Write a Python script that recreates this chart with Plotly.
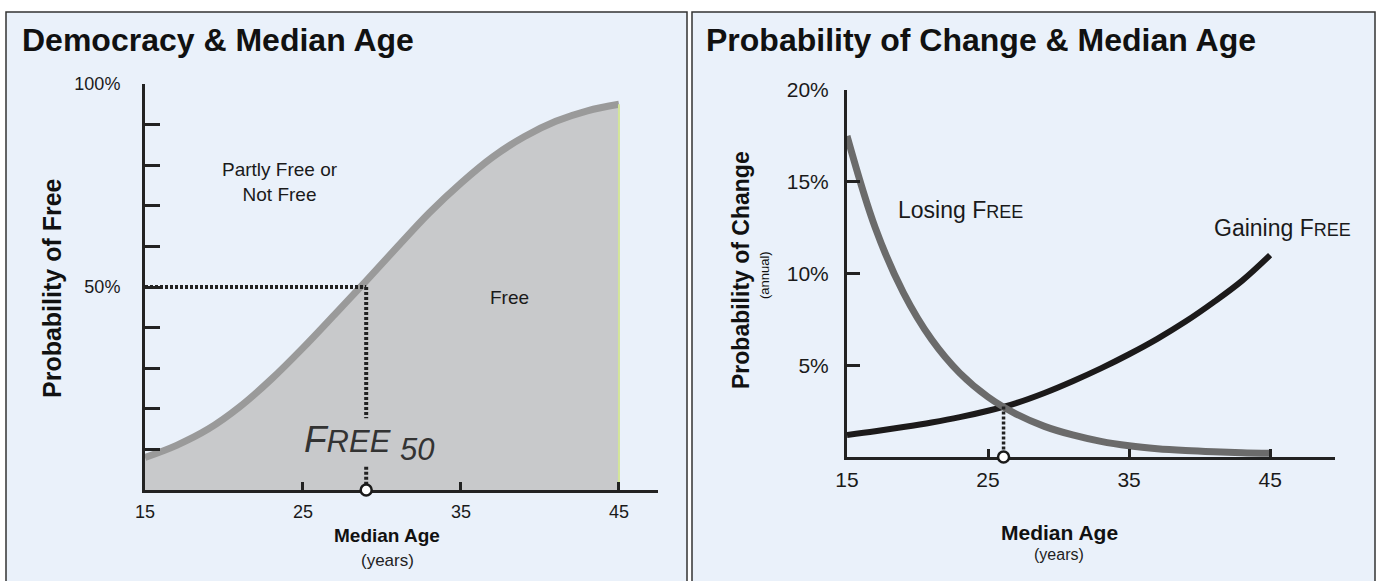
import plotly.graph_objects as go

W, H = 1378, 581
FONT = "Arial, 'Liberation Sans', sans-serif"

# ---------------- data ----------------
# Left panel: probability of Free vs median age
age_free = [15, 17, 19, 21, 23, 25, 27, 29, 31, 33, 35, 37, 39, 41, 43, 45]
p_free = [8, 11, 15, 20.5, 27.3, 35, 43.2, 51.5, 60, 68.3, 75.6, 82, 87, 90.8, 93.4, 95]
free50_age = 29
free50_p = 50
left_xticks = [15, 25, 35, 45]
left_yticks = [0, 10, 20, 30, 40, 50, 60, 70, 80, 90, 100]
left_ytext = ["", "", "", "", "", "50%", "", "", "", "", "100%"]

# Right panel: annual probability of change vs median age
age_change = [15, 17, 19, 21, 23, 25, 27, 29, 31, 33, 35, 37, 39, 41, 43, 45]
losing_free = [17.5, 12.5, 8.95, 6.4, 4.57, 3.27, 2.34, 1.67, 1.2, 0.85, 0.61, 0.45, 0.35, 0.28, 0.23, 0.2]
gaining_free = [1.2, 1.4, 1.63, 1.88, 2.17, 2.52, 2.94, 3.49, 4.13, 4.83, 5.6, 6.44, 7.38, 8.44, 9.6, 11.0]
cross_age = 26.1
cross_p = 2.75
right_xticks = [15, 25, 35, 45]
right_yticks = [0, 5, 10, 15, 20]
right_ytext = ["", "5%", "10%", "15%", "20%"]


def px(x):
    return x / W


def py(y):
    return 1 - y / H


fig = go.Figure()

# ---- left panel traces ----
fig.add_trace(go.Scatter(
    x=age_free, y=p_free, mode="lines", line=dict(color="#9a9a9a", width=7, shape="spline"),
    fill="tozeroy", fillcolor="#c8c9cb", xaxis="x", yaxis="y", hoverinfo="skip"))
fig.add_trace(go.Scatter(
    x=[age_free[-1], age_free[-1]], y=[0, p_free[-1]], mode="lines",
    line=dict(color="#d3e59a", width=2), xaxis="x", yaxis="y", hoverinfo="skip"))
# dotted guide lines
dot = dict(color="#222222", width=4, dash="3px,2px")
fig.add_trace(go.Scatter(x=[left_xticks[0], free50_age], y=[free50_p, free50_p], mode="lines",
                         line=dot, xaxis="x", yaxis="y", hoverinfo="skip"))
gap_top, gap_bottom = 17.7, 5.7   # break in the vertical guide for the label
fig.add_trace(go.Scatter(x=[free50_age, free50_age], y=[free50_p, gap_top], mode="lines",
                         line=dot, xaxis="x", yaxis="y", hoverinfo="skip"))
fig.add_trace(go.Scatter(x=[free50_age, free50_age], y=[gap_bottom, 0], mode="lines",
                         line=dot, xaxis="x", yaxis="y", hoverinfo="skip"))

# ---- right panel traces ----
fig.add_trace(go.Scatter(
    x=age_change, y=gaining_free, mode="lines", line=dict(color="#1c1a1a", width=6, shape="spline"),
    xaxis="x2", yaxis="y2", hoverinfo="skip"))
fig.add_trace(go.Scatter(
    x=age_change, y=losing_free, mode="lines", line=dict(color="#6b6b6b", width=7, shape="spline"),
    xaxis="x2", yaxis="y2", hoverinfo="skip"))
fig.add_trace(go.Scatter(x=[cross_age, cross_age], y=[cross_p, 0], mode="lines",
                         line=dict(color="#222222", width=3.5, dash="3px,2px"),
                         xaxis="x2", yaxis="y2", hoverinfo="skip"))

axis_common = dict(showgrid=False, zeroline=False, showline=True, linecolor="#222222", linewidth=3,
                   ticks="inside", tickcolor="#222222", tickwidth=3, fixedrange=True,
                   automargin=False)

fig.update_layout(
    width=W, height=H,
    autosize=False,
    margin=dict(l=0, r=0, t=0, b=0, pad=0, autoexpand=False),
    paper_bgcolor="white", plot_bgcolor="rgba(0,0,0,0)",
    showlegend=False,
    font=dict(family=FONT, color="#1a1a1a"),
    xaxis=dict(axis_common, domain=[px(145), px(658)], range=[15, 47.47], anchor="y",
               tickvals=left_xticks, ticktext=[str(v) for v in left_xticks], ticklen=8,
               tickfont=dict(size=18, family=FONT, color="#1a1a1a"), ticklabelstandoff=3),
    yaxis=dict(axis_common, domain=[py(490), py(84)], range=[0, 100], anchor="x",
               tickvals=left_yticks, ticktext=left_ytext, ticklen=15,
               tickfont=dict(size=18, family=FONT, color="#1a1a1a"), ticklabelstandoff=18),
    xaxis2=dict(axis_common, domain=[px(847), px(1335)], range=[15, 49.6], anchor="y2",
                tickvals=right_xticks, ticktext=[str(v) for v in right_xticks], ticklen=8,
                tickfont=dict(size=21, family=FONT, color="#1a1a1a"), ticklabelstandoff=2),
    yaxis2=dict(axis_common, domain=[py(457), py(90)], range=[0, 20], anchor="x2",
                tickvals=right_yticks, ticktext=right_ytext, ticklen=13,
                tickfont=dict(size=21, family=FONT, color="#1a1a1a"), ticklabelstandoff=11),
)

# panel backgrounds and the marker circles on the axes
shapes = [
    dict(type="rect", xref="paper", yref="paper", x0=px(6), x1=px(687), y0=-0.1, y1=py(12),
         fillcolor="#eaf1fa", line=dict(color="#333333", width=1.5), layer="below"),
    dict(type="rect", xref="paper", yref="paper", x0=px(692), x1=px(1375), y0=-0.1, y1=py(12),
         fillcolor="#eaf1fa", line=dict(color="#333333", width=1.5), layer="below"),
    dict(type="circle", xref="x", yref="y domain", xsizemode="pixel", ysizemode="pixel",
         xanchor=free50_age, yanchor=0, x0=-5.5, x1=5.5, y0=-5.5, y1=5.5,
         fillcolor="white", line=dict(color="#1a1a1a", width=2.5), layer="above"),
    dict(type="circle", xref="x2", yref="y2 domain", xsizemode="pixel", ysizemode="pixel",
         xanchor=cross_age, yanchor=0, x0=-5.5, x1=5.5, y0=-5.5, y1=5.5,
         fillcolor="white", line=dict(color="#1a1a1a", width=2.5), layer="above"),
]
fig.update_layout(shapes=shapes)


def ann(text, x, y, size, xanchor="center", bold=False, angle=0, color="#111111"):
    t = f"<b>{text}</b>" if bold else text
    return dict(text=t, x=px(x), y=py(y), xref="paper", yref="paper", showarrow=False,
                xanchor=xanchor, yanchor="middle", textangle=angle,
                font=dict(size=size, family=FONT, color=color))


annotations = [
    ann("Democracy &amp; Median Age", 20, 40, 32, xanchor="left", bold=True),
    ann("Probability of Change &amp; Median Age", 704, 40, 32, xanchor="left", bold=True),
    ann("Probability of Free", 52, 288, 25, bold=True, angle=-90),
    ann("Probability of Change", 741, 270, 23, bold=True, angle=-90),
    ann("(annual)", 764, 275, 13, angle=-90),
    ann("Median Age", 387, 535, 19, bold=True),
    ann("(years)", 387, 560, 17, color="#222222"),
    ann("Median Age", 1059, 532, 21, bold=True),
    ann("(years)", 1059, 554, 16, color="#222222"),
    ann("Partly Free or<br>Not Free", 280, 182, 19, color="#1a1a1a"),
    ann("Free", 510, 297, 19, color="#1a1a1a"),
    ann("<i>F<span style='font-size:31px'>REE</span></i>", 302, 439, 37, xanchor="left", color="#333333"),
    ann("<i>50</i>", 398, 449, 31, xanchor="left", color="#333333"),
    ann("Losing F<span style='font-size:18px'>REE</span>", 896, 210, 23, xanchor="left", color="#1a1a1a"),
    ann("Gaining F<span style='font-size:18px'>REE</span>", 1212, 228, 23, xanchor="left", color="#1a1a1a"),
]
fig.update_layout(annotations=annotations)

fig.write_html("out.html", config={"displayModeBar": False},
               post_script="document.body.style.margin='0px';")
